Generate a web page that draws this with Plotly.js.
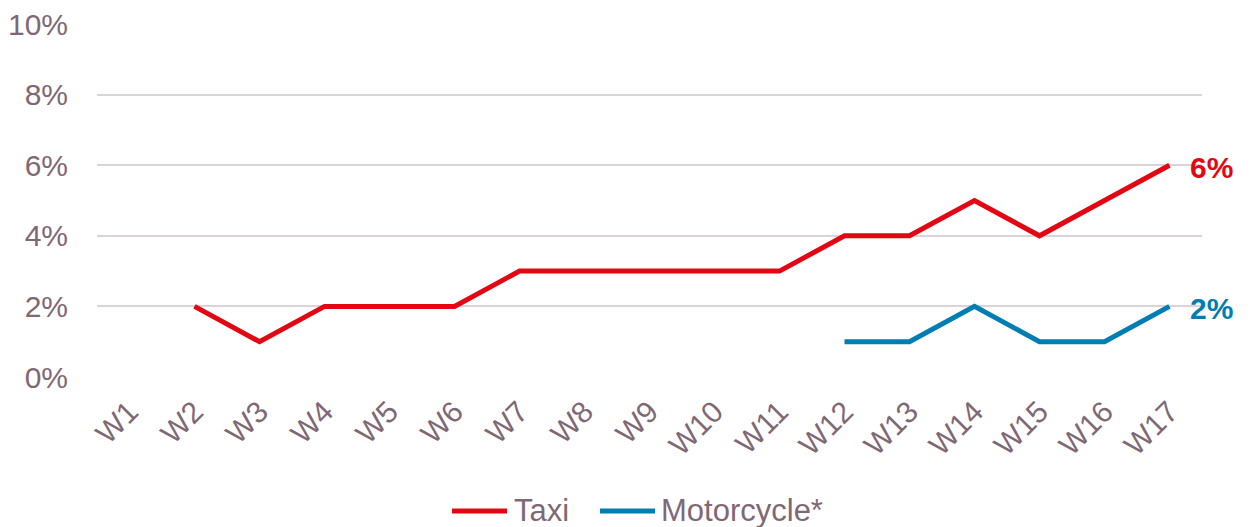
<!DOCTYPE html>
<html>
<head>
<meta charset="utf-8">
<script src="https://cdn.plot.ly/plotly-3.0.1.min.js"></script>
<style>html,body{margin:0;padding:0;background:#fff;}#chart{width:1250px;height:527px;}</style>
</head>
<body>
<div id="chart"></div>
<script>
const weeks = ["W1","W2","W3","W4","W5","W6","W7","W8","W9","W10","W11","W12","W13","W14","W15","W16","W17"];
const taxi = [null,2,1,2,2,2,3,3,3,3,3,4,4,5,4,5,6];
const motorcycle = [null,null,null,null,null,null,null,null,null,null,null,1,1,2,1,1,2];
const yTicks = [0,2,4,6,8,10];
const yTickLabels = ["0%","2%","4%","6%","8%","10%"];
const seriesNames = ["Taxi","Motorcycle*"];

const RED = "#e30613";
const BLUE = "#007db3";
const TXT = "#7f6875";
const FONT = "Liberation Sans, Arial, sans-serif";
const COLORS = [RED, BLUE];

const traces = [
  {x: weeks, y: taxi, name: seriesNames[0], type: "scatter", mode: "lines",
   line: {color: RED, width: 5}, connectgaps: false},
  {x: weeks, y: motorcycle, name: seriesNames[1], type: "scatter", mode: "lines",
   line: {color: BLUE, width: 5}, connectgaps: false}
];

const lastIdx = weeks.length - 1;
const annotations = [
  {x: weeks[lastIdx], y: taxi[lastIdx], text: taxi[lastIdx] + "%", color: RED},
  {x: weeks[lastIdx], y: motorcycle[lastIdx], text: motorcycle[lastIdx] + "%", color: BLUE}
].map(a => ({
  x: a.x, y: a.y, xref: "x", yref: "y", text: "<b>" + a.text + "</b>",
  showarrow: false, xanchor: "left", yanchor: "middle", xshift: 18, yshift: -2,
  font: {family: FONT, size: 30, color: a.color}
}));

// Manual legend (pixel layout converted to paper coords)
const plotL = 97, plotW = 1105, plotB = 377, plotH = 353;
const px = v => (v - plotL) / plotW;
const py = v => (plotB - v) / plotH;
const legendY = 511;
const legendItems = [{lineX: 452, textX: 512}, {lineX: 600, textX: 659}];
const shapes = [];
legendItems.forEach((it, i) => {
  shapes.push({type: "line", xref: "paper", yref: "paper",
    x0: px(it.lineX), x1: px(it.lineX + 55), y0: py(legendY), y1: py(legendY),
    line: {color: COLORS[i], width: 5}});
  annotations.push({xref: "paper", yref: "paper", x: px(it.textX), y: py(legendY),
    xanchor: "left", yanchor: "middle", showarrow: false, text: seriesNames[i],
    font: {family: FONT, size: 31, color: TXT}, yshift: 1});
});

const layout = {
  width: 1250, height: 527,
  margin: {l: 97, r: 48, t: 24, b: 150},
  paper_bgcolor: "#fff", plot_bgcolor: "#fff",
  font: {family: FONT, color: TXT},
  showlegend: false,
  xaxis: {type: "category", range: [-0.5, 16.5], showgrid: false, zeroline: false,
          showline: false, ticks: "", tickangle: -45, automargin: false,
          ticklabelstandoff: 10,
          tickfont: {family: FONT, size: 30, color: TXT}},
  yaxis: {range: [0, 10], tickvals: yTicks, ticktext: yTickLabels, automargin: false,
          showgrid: true, gridcolor: "#dcd3d8", gridwidth: 1.5, zeroline: false,
          showline: false, ticks: "", ticklabelstandoff: 28,
          tickfont: {family: FONT, size: 30, color: TXT}},
  shapes: shapes,
  annotations: annotations
};

Plotly.newPlot("chart", traces, layout, {displayModeBar: false});
</script>
</body>
</html>
